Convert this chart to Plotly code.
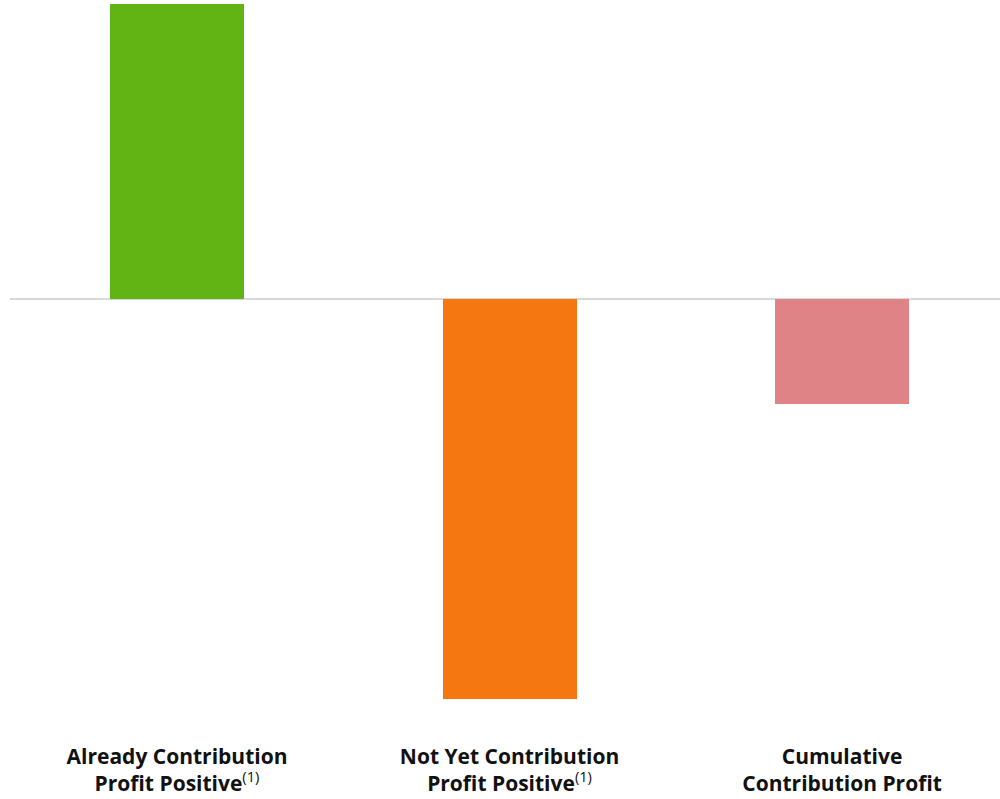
import plotly.graph_objects as go

# Contribution profit by customer cohort
categories = [
    "<b>Already Contribution</b><br><b>Profit Positive</b><sup>(1)</sup>",
    "<b>Not Yet Contribution</b><br><b>Profit Positive</b><sup>(1)</sup>",
    "<b>Cumulative</b><br><b>Contribution Profit</b>",
]
values = [2.95, -4.00, -1.05]
colors = ["#62B414", "#F57712", "#DF8387"]

fig = go.Figure(
    go.Bar(
        x=list(range(len(categories))),
        y=values,
        marker=dict(color=colors, line=dict(width=0)),
        width=0.403,
        hoverinfo="skip",
    )
)

fig.update_layout(
    width=1000,
    height=799,
    margin=dict(l=10, r=0, t=0, b=79),
    paper_bgcolor="white",
    plot_bgcolor="white",
    showlegend=False,
    font=dict(family="Open Sans", color="#111111"),
    bargap=0,
)

fig.update_xaxes(
    tickmode="array",
    tickvals=list(range(len(categories))),
    ticktext=categories,
    range=[-0.5023, 2.475],
    showgrid=False,
    zeroline=False,
    showline=False,
    ticks="",
    ticklabelstandoff=22,
    tickfont=dict(family="Open Sans", size=21, color="#111111"),
)

fig.update_yaxes(
    range=[-4.215, 2.985],
    showgrid=False,
    showticklabels=False,
    zeroline=True,
    zerolinecolor="#D9D9D9",
    zerolinewidth=2,
    showline=False,
)

fig.write_html("out.html")
